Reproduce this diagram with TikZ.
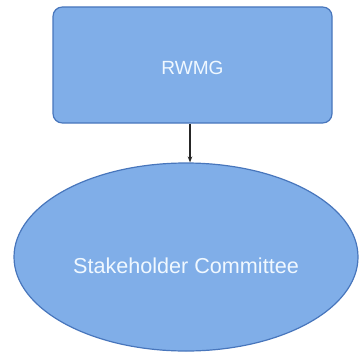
\documentclass[tikz,border=0pt]{standalone}
\usepackage{fontspec}
\setmainfont{Liberation Sans}
\usetikzlibrary{shapes.geometric,arrows.meta}
\definecolor{boxfill}{RGB}{128,174,232}
\definecolor{boxline}{RGB}{72,118,188}
\definecolor{txt}{RGB}{240,248,255}
\tikzset{
  shapebox/.style={draw=boxline, fill=boxfill, line width=0.9pt, text=txt, inner sep=0pt},
  conn/.style={draw=black!85, line width=0.8pt, -{Stealth[length=4.5pt,width=3.5pt]}}
}
\begin{document}
\begin{tikzpicture}[x=0.75pt,y=-0.75pt]
\useasboundingbox (0,0) rectangle (359,356);
\node[shapebox, rectangle, rounded corners=7pt, minimum width=209.25pt, minimum height=87pt,
      font=\fontsize{14.3}{16}\selectfont] (rwmg) at (192.5,65) {\raisebox{-7pt}[0pt][0pt]{RWMG}};
\node[shapebox, ellipse, minimum width=258pt, minimum height=141pt,
      font=\fontsize{16.2}{18}\selectfont] (sc) at (186,257) {\raisebox{-12.3pt}[0pt][0pt]{Stakeholder Committee}};
\path (rwmg.south) ++(-2.5,0) coordinate (a);
\draw[conn] (a) -- (a |- sc.north);
\end{tikzpicture}
\end{document}
